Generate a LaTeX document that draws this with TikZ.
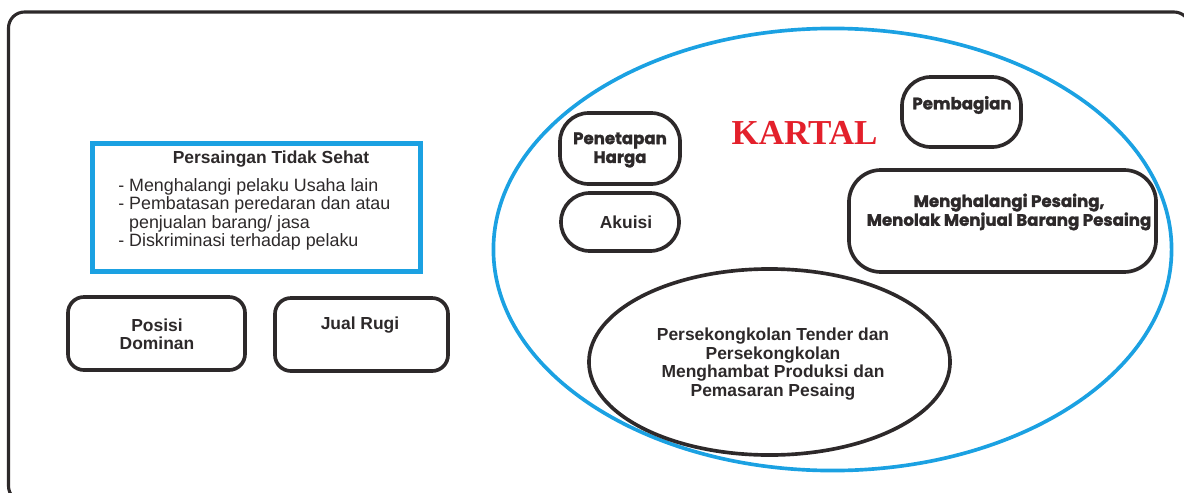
\documentclass[tikz,border=0pt]{standalone}
\usepackage{fontspec}
\setmainfont{Liberation Sans}
\newfontfamily\seriffont{Liberation Serif}
\newfontfamily\heavyfont{Poppins}[BoldFeatures={FakeBold=1.6}]
\usetikzlibrary{shapes.geometric}

\definecolor{tinta}{HTML}{2D292A}
\definecolor{biru}{HTML}{1BA1E2}
\definecolor{merah}{HTML}{E3202B}

\tikzset{
  teks/.style={text=tinta, font=\fontsize{12.4}{13.1}\selectfont\bfseries, align=center, inner sep=0pt},
  tebal/.style={text=tinta, font=\fontsize{11.8}{13.4}\selectfont\heavyfont\bfseries, align=center, inner sep=0pt},
  kotak/.style={draw=tinta, line width=2.6pt, rounded corners=0.4cm},
  kapsul/.style={draw=tinta, line width=2.6pt, rounded corners=0.72cm},
}

\begin{document}
\begin{tikzpicture}[x=0.025cm, y=-0.025cm]
			\useasboundingbox (0,0) rectangle (1184,493);
			\clip (0,0) rectangle (1184,493);

			% bingkai luar
			\draw[tinta, line width=2.2pt, rounded corners=0.4cm] (8.5,12) rectangle (1190,502);

			\begin{scope}
				% kiri: persaingan tidak sehat
				\node[draw=biru, line width=3pt, minimum width=8.2cm, minimum height=3.2cm] (sehat) at (256.5,207.5) {};
				\node[teks] (sehatjudul) at (271,159) {Persaingan Tidak Sehat};
				\node[text=tinta, font=\fontsize{12.7}{13.1}\selectfont, align=left, inner sep=0pt, anchor=north west] (sehatisi) at (118,178) {- Menghalangi pelaku Usaha lain\\- Pembatasan peredaran dan atau\\\phantom{-}\ penjualan barang/ jasa\\- Diskriminasi terhadap pelaku};

				\node[kotak, minimum width=4.425cm, minimum height=1.825cm] (posisi) at (156.5,333.5) {};
				\node[teks] (posisiteks) at (157,334) {Posisi\\Dominan};
				\node[kotak, minimum width=4.325cm, minimum height=1.825cm] (jualrugi) at (361.5,334.5) {};
				\node[teks] (jualrugiteks) at (360,325) {Jual Rugi};
			\end{scope}

			\begin{scope}
				% kanan: kartel
				\draw[biru, line width=2.6pt] (832.5,249.5) ellipse [x radius=8.475cm, y radius=5.525cm];
				\node[text=merah, font=\fontsize{24.9}{26}\selectfont\seriffont\bfseries, inner sep=0pt] (kartal) at (804.5,132.5) {KARTAL};

				\node[kapsul, minimum width=3cm, minimum height=1.775cm] (harga) at (620,148.5) {};
				\node[tebal] (hargateks) at (620,150) {Penetapan\\Harga};
				\node[kapsul, minimum width=2.95cm, minimum height=1.45cm] (akuisi) at (620,222) {};
				\node[teks] (akuisiteks) at (626,222) {Akuisi};
				\node[kapsul, minimum width=2.975cm, minimum height=1.75cm] (bagi) at (961.5,112) {};
				\node[tebal] (bagiteks) at (962,105) {Pembagian};
				\node[kotak, rounded corners=0.8cm, minimum width=7.675cm, minimum height=2.55cm] (halang) at (1002.5,221) {};
				\node[tebal] (halangteks) at (1009,212) {Menghalangi Pesaing,\\Menolak Menjual Barang Pesaing};

				\node[ellipse, draw=tinta, line width=2.6pt, minimum width=9.025cm, minimum height=4.65cm, inner sep=0pt] (tender) at (769.5,362) {};
				\node[teks, font=\fontsize{12.4}{13.2}\selectfont\bfseries] (tenderteks) at (773,364) {Persekongkolan Tender dan\\Persekongkolan\\Menghambat Produksi dan\\Pemasaran Pesaing};
			\end{scope}
		\end{tikzpicture}
\end{document}
